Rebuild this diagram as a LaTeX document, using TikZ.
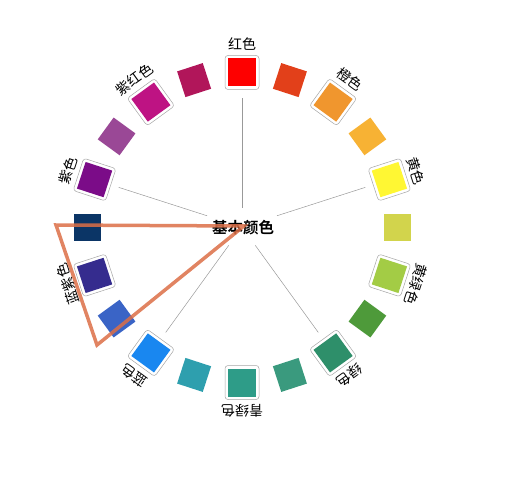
\documentclass[tikz,border=0pt]{standalone}
\usepackage{fontspec}
\usetikzlibrary{shapes.geometric,calc}
\newfontfamily\cjk{Noto Sans CJK SC}[BoldFont={Noto Sans CJK SC Bold}]
\definecolor{c0}{HTML}{FE0000}
\definecolor{c1}{HTML}{E2401A}
\definecolor{c2}{HTML}{F0962E}
\definecolor{c3}{HTML}{F7B234}
\definecolor{c4}{HTML}{FFF733}
\definecolor{c5}{HTML}{D2D44C}
\definecolor{c6}{HTML}{A3CC45}
\definecolor{c7}{HTML}{4E9A3A}
\definecolor{c8}{HTML}{2E8F6A}
\definecolor{c9}{HTML}{3A9A7E}
\definecolor{c10}{HTML}{2E9C88}
\definecolor{c11}{HTML}{2E9FAE}
\definecolor{c12}{HTML}{1987F0}
\definecolor{c13}{HTML}{3A64C6}
\definecolor{c14}{HTML}{352C8E}
\definecolor{c15}{HTML}{0B3566}
\definecolor{c16}{HTML}{7B0C88}
\definecolor{c17}{HTML}{9A4896}
\definecolor{c18}{HTML}{BE1383}
\definecolor{c19}{HTML}{B1165A}
\definecolor{tricol}{HTML}{DC6E46}
\begin{document}
\begin{tikzpicture}[x=1pt,y=-1pt,
  sq/.style={minimum size=27pt, inner sep=0pt, draw=none},
  framebox/.style={minimum size=34pt, inner sep=0pt, rounded corners=3pt, draw=gray!70, line width=0.5pt, fill=white},
  lab/.style={font=\cjk\fontsize{14}{14}\selectfont, inner sep=0pt},
  spoke/.style={draw=gray!80, line width=0.5pt, shorten >=8pt},
  tri/.style={draw=tricol, line width=3.5pt, line join=miter, opacity=0.85}]
\useasboundingbox (0,0) rectangle (505,497);
\coordinate (C) at (242,227.5);
\foreach \i in {0,...,19} {
  \pgfmathsetmacro\a{90-18*\i}
  \pgfmathsetmacro\r{\a-90}
  \ifodd\i
    \node[sq, fill=c\i, rotate=\r] (s\i) at ($(C)+(\a:155pt)$) {};
  \else
    \node[framebox, rotate=\r] (f\i) at ($(C)+(\a:155pt)$) {};
    \node[sq, minimum size=28pt, fill=c\i, rotate=\r] (s\i) at ($(C)+(\a:155pt)$) {};
  \fi
}
\foreach \i/\t in {0/红色,2/橙色,4/黄色,6/黄绿色,8/绿色,10/青绿色,12/蓝色,14/蓝紫色,16/紫色,18/紫红色} {
  \pgfmathsetmacro\a{90-18*\i}
  \pgfmathsetmacro\r{\a-90}
  \node[lab, rotate=\r] (l\i) at ($(C)+(\a:183pt)$) {\t};
}
\node[ellipse, minimum width=86pt, minimum height=38pt, inner sep=0pt] (hub) at (242,227) {};
\foreach \i in {0,4,8,12,16} {
  \draw[spoke] (hub) -- (f\i);
}
\node[font=\cjk\bfseries\fontsize{15.5}{15.5}\selectfont, inner sep=0pt] (title) at (243,228) {基本颜色};
\coordinate (ta) at (56,225);
\coordinate (tb) at (97,345);
\coordinate (tc) at (244,226);
\draw[tri] (ta) -- (tb) -- (tc) -- cycle;
\end{tikzpicture}
\end{document}
